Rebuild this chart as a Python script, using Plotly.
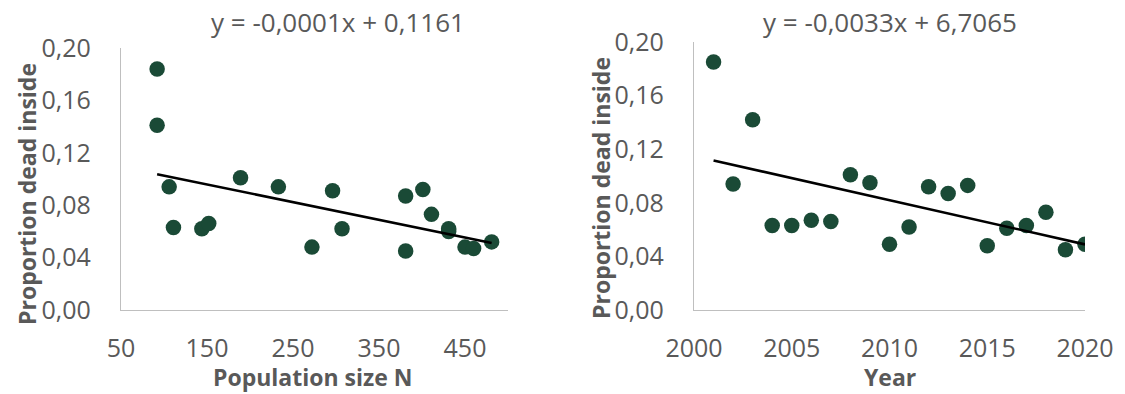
import plotly.graph_objects as go

# ---- data ----
pop_size = [92, 92, 106, 111, 144, 152, 189, 233, 272, 296,
            307, 381, 381, 401, 411, 431, 431, 450, 460, 481]
prop_by_pop = [0.184, 0.141, 0.094, 0.063, 0.062, 0.066, 0.101, 0.094, 0.048, 0.091,
               0.062, 0.087, 0.045, 0.092, 0.073, 0.062, 0.060, 0.048, 0.047, 0.052]

years = list(range(2001, 2021))
prop_by_year = [0.185, 0.094, 0.142, 0.063, 0.063, 0.067, 0.066, 0.101, 0.095, 0.049,
                0.062, 0.092, 0.087, 0.093, 0.048, 0.061, 0.063, 0.073, 0.045, 0.049]

# trendline coefficients (as shown on the chart, slope refined from the drawn line)
trend_pop = dict(slope=-0.000135, intercept=0.1161)
trend_year = dict(slope=-0.0032958, intercept=6.7065)

y_ticks = [0.0, 0.04, 0.08, 0.12, 0.16, 0.20]
y_tick_labels = ["0,00", "0,04", "0,08", "0,12", "0,16", "0,20"]
pop_ticks = [50, 150, 250, 350, 450]
year_ticks = [2000, 2005, 2010, 2015, 2020]

eq_left = "y = -0,0001x + 0,1161"
eq_right = "y = -0,0033x + 6,7065"

# ---- styling ----
W, H = 1125, 394
DOT = "#1A4A36"
GREY = "#595959"
AXIS = "#BFBFBF"
FONT = "Open Sans"
TICK_SIZE = 25
TITLE_SIZE = 23


def fx(px):
    return px / W


def fy(py):
    return 1 - py / H


fig = go.Figure()

# scatter points
fig.add_trace(go.Scatter(x=pop_size, y=prop_by_pop, mode="markers",
                         marker=dict(color=DOT, size=15.5, line=dict(width=0)),
                         xaxis="x", yaxis="y", showlegend=False))
fig.add_trace(go.Scatter(x=years, y=prop_by_year, mode="markers",
                         marker=dict(color=DOT, size=15.5, line=dict(width=0)),
                         xaxis="x2", yaxis="y2", showlegend=False))

# linear trendlines over the data extent
for xs, tr, xa, ya in [(pop_size, trend_pop, "x", "y"), (years, trend_year, "x2", "y2")]:
    x_line = [min(xs), max(xs)]
    fig.add_trace(go.Scatter(x=x_line,
                             y=[tr["slope"] * v + tr["intercept"] for v in x_line],
                             mode="lines", line=dict(color="black", width=2.6),
                             xaxis=xa, yaxis=ya, showlegend=False))

axis_common = dict(showgrid=False, zeroline=False, showline=True, linecolor=AXIS,
                   linewidth=1.3, ticks="outside", tickcolor="rgba(0,0,0,0)",
                   automargin=False,
                   tickfont=dict(family=FONT, size=TICK_SIZE, color=GREY))

fig.update_layout(
    width=W, height=H,
    margin=dict(l=0, r=0, t=0, b=0),
    paper_bgcolor="white", plot_bgcolor="white",
    showlegend=False,
    xaxis=dict(domain=[fx(121), fx(508)], range=[50, 500], tickvals=pop_ticks,
               ticklen=16, anchor="y", **axis_common),
    yaxis=dict(domain=[fy(310), fy(48)], range=[0, 0.2], tickvals=y_ticks,
               ticktext=y_tick_labels, ticklen=24, anchor="x", **axis_common),
    xaxis2=dict(domain=[fx(694), fx(1085)], range=[2000, 2020], tickvals=year_ticks,
                ticklen=16, anchor="y2", **axis_common),
    yaxis2=dict(domain=[fy(310), fy(42)], range=[0, 0.2], tickvals=y_ticks,
                ticktext=y_tick_labels, ticklen=24, anchor="x2", **axis_common),
)

title_font = dict(family=FONT, size=TITLE_SIZE, color=GREY)
eq_font = dict(family=FONT, size=26, color=GREY)
annotations = [
    dict(text=eq_left, x=fx(338), y=fy(22), font=eq_font),
    dict(text=eq_right, x=fx(890), y=fy(22), font=eq_font),
    dict(text="<b>Population size N</b>", x=fx(313), y=fy(377), font=title_font),
    dict(text="<b>Year</b>", x=fx(890), y=fy(377), font=title_font),
    dict(text="<b>Proportion dead inside</b>", x=fx(27), y=fy(194), textangle=-90, font=title_font),
    dict(text="<b>Proportion dead inside</b>", x=fx(601), y=fy(188), textangle=-90, font=title_font),
]
for a in annotations:
    a.update(xref="paper", yref="paper", showarrow=False, xanchor="center", yanchor="middle")
fig.update_layout(annotations=annotations)

fig.write_html("out.html")
